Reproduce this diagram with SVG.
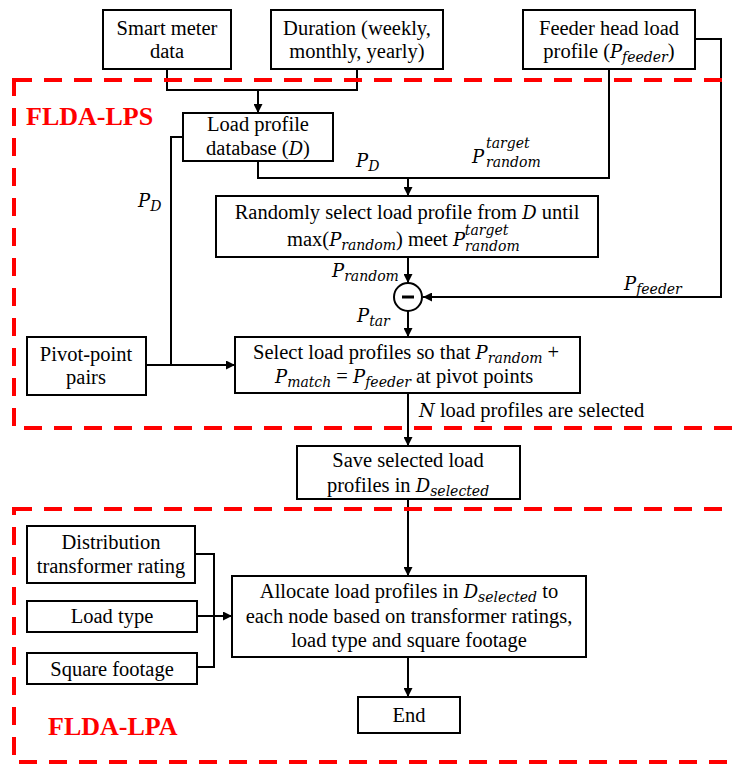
<svg xmlns="http://www.w3.org/2000/svg" width="732" height="764" viewBox="0 0 732 764">
<style>
.t{font-family:"Liberation Serif","Times New Roman",serif;font-size:20.5px;fill:#000}
.c{text-anchor:middle}
.m{font-family:"DejaVu Serif",serif;font-style:italic;font-size:18px}
.s{font-family:"DejaVu Serif",serif;font-style:italic;font-size:14px}
.box{fill:#fff;stroke:#000;stroke-width:2}
.ln{fill:none;stroke:#000;stroke-width:2}
.grp{fill:none;stroke:#ff0000;stroke-width:4;stroke-dasharray:18 12}
.lbl{font-family:"Liberation Serif","Times New Roman",serif;font-weight:bold;font-size:26px;fill:#ff0000}
</style>
<defs>
<marker id="ah" markerWidth="9" markerHeight="9" refX="9" refY="4.5" orient="auto" markerUnits="userSpaceOnUse">
<path d="M0,0 L9,4.5 L0,9 z" fill="#000"/>
</marker>
</defs>
<rect width="732" height="764" fill="#fff"/>

<g id="connectors">
<path class="ln" d="M167,69 V90 H357 V69"/>
<path class="ln" d="M258,90 V113" marker-end="url(#ah)"/>
<path class="ln" d="M183,137 H171 V365"/>
<path class="ln" d="M146,365 H235" marker-end="url(#ah)"/>
<path class="ln" d="M258,161 V178 H609 V69"/>
<path class="ln" d="M408,178 V196" marker-end="url(#ah)"/>
<path class="ln" d="M408,257 V283" marker-end="url(#ah)"/>
<path class="ln" d="M695,39 H721 V297 H423" marker-end="url(#ah)"/>
<path class="ln" d="M408,311 V337" marker-end="url(#ah)"/>
<path class="ln" d="M408,393 V446" marker-end="url(#ah)"/>
<path class="ln" d="M408,499 V576" marker-end="url(#ah)"/>
<path class="ln" d="M195,554 H214 V667 H197"/>
<path class="ln" d="M197,616 H232" marker-end="url(#ah)"/>
<path class="ln" d="M408,657 V697" marker-end="url(#ah)"/>
</g>

<g id="group-lps">
<rect class="grp" x="14" y="80" width="740" height="348"/>
<text class="lbl" x="26" y="125">FLDA-LPS</text>
</g>
<g id="group-lpa">
<rect class="grp" x="14" y="509" width="740" height="253"/>
<text class="lbl" x="48" y="735">FLDA-LPA</text>
</g>

<g id="smart-meter">
<rect class="box" x="103" y="10" width="128" height="59"/>
<text class="t c" x="167" y="35">Smart meter</text>
<text class="t c" x="167" y="58">data</text>
</g>
<g id="duration">
<rect class="box" x="271" y="10" width="172" height="59"/>
<text class="t c" x="357" y="35">Duration (weekly,</text>
<text class="t c" x="357" y="58">monthly, yearly)</text>
</g>
<g id="feeder-head">
<rect class="box" x="523" y="10" width="172" height="59"/>
<text class="t c" x="609" y="35">Feeder head load</text>
<text class="t c" x="609" y="58">profile (<tspan class="m">P</tspan><tspan class="s" dy="4">feeder</tspan><tspan dy="-4">)</tspan></text>
</g>
<g id="load-db">
<rect class="box" x="183" y="113" width="150" height="48"/>
<text class="t c" x="258" y="131">Load profile</text>
<text class="t c" x="258" y="155">database (<tspan class="m">D</tspan>)</text>
</g>
<g id="random-select">
<rect class="box" x="216" y="196" width="382" height="61"/>
<text class="t c" x="407" y="219">Randomly select load profile from <tspan class="m">D</tspan> until</text>
<text class="t" x="287" y="246">max(<tspan class="m">P</tspan><tspan class="s" dy="4">random</tspan><tspan dy="-4">) meet </tspan><tspan class="m">P</tspan><tspan class="s" dy="5">random</tspan><tspan class="s" dx="-55" dy="-16">target</tspan></text>
</g>
<g id="subtract">
<circle cx="408" cy="297" r="14" fill="#fff" stroke="#000" stroke-width="2"/>
<path d="M402,297 H414" stroke="#000" stroke-width="3"/>
</g>
<g id="pivot">
<rect class="box" x="27" y="337" width="119" height="58"/>
<text class="t c" x="86" y="361">Pivot-point</text>
<text class="t c" x="86" y="384">pairs</text>
</g>
<g id="select-match">
<rect class="box" x="235" y="337" width="345" height="56"/>
<text class="t" x="253" y="359">Select load profiles so that <tspan class="m">P</tspan><tspan class="s" dy="4">random</tspan><tspan dy="-4"> +</tspan></text>
<text class="t" x="275" y="383"><tspan class="m">P</tspan><tspan class="s" dy="4">match</tspan><tspan dy="-4"> = </tspan><tspan class="m">P</tspan><tspan class="s" dy="4">feeder</tspan><tspan dy="-4"> at pivot points</tspan></text>
</g>
<g id="save">
<rect class="box" x="297" y="446" width="223" height="53"/>
<text class="t c" x="408" y="467">Save selected load</text>
<text class="t c" x="408" y="492">profiles in <tspan class="m">D</tspan><tspan class="s" dy="4">selected</tspan></text>
</g>
<g id="dist-rating">
<rect class="box" x="27" y="526" width="168" height="57"/>
<text class="t c" x="111" y="549">Distribution</text>
<text class="t c" x="111" y="573">transformer rating</text>
</g>
<g id="load-type">
<rect class="box" x="27" y="601" width="170" height="31"/>
<text class="t c" x="112" y="623">Load type</text>
</g>
<g id="square-footage">
<rect class="box" x="27" y="653" width="170" height="31"/>
<text class="t c" x="112" y="676">Square footage</text>
</g>
<g id="allocate">
<rect class="box" x="232" y="576" width="354" height="81"/>
<text class="t c" x="409" y="598">Allocate load profiles in <tspan class="m">D</tspan><tspan class="s" dy="4">selected</tspan><tspan dy="-4"> to</tspan></text>
<text class="t c" x="409" y="623">each node based on transformer ratings,</text>
<text class="t c" x="409" y="647">load type and square footage</text>
</g>
<g id="end">
<rect class="box" x="358" y="697" width="102" height="36"/>
<text class="t c" x="409" y="722">End</text>
</g>

<g id="labels">
<text class="t" x="138" y="207"><tspan class="m">P</tspan><tspan class="s" dy="4">D</tspan></text>
<text class="t" x="356" y="167"><tspan class="m">P</tspan><tspan class="s" dy="4">D</tspan></text>
<text class="m" x="472" y="163">P</text>
<text class="s" x="486" y="148">target</text>
<text class="s" x="486" y="167">random</text>
<text class="t" x="332" y="277"><tspan class="m">P</tspan><tspan class="s" dy="4">random</tspan></text>
<text class="t" x="357" y="322"><tspan class="m">P</tspan><tspan class="s" dy="4">tar</tspan></text>
<text class="t" x="624" y="290"><tspan class="m">P</tspan><tspan class="s" dy="4">feeder</tspan></text>
<text class="t" x="419" y="417"><tspan class="m">N</tspan> load profiles are selected</text>
</g>
</svg>
